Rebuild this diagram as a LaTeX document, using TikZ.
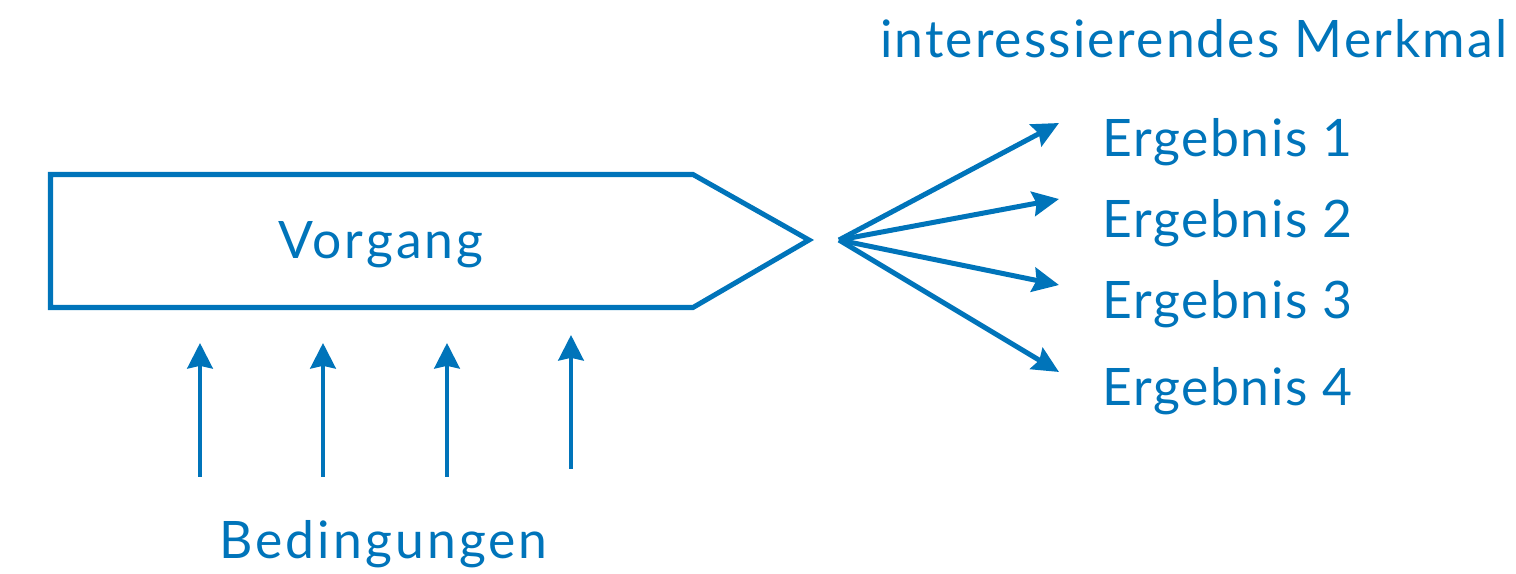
\documentclass[tikz,border=0pt]{standalone}
\usepackage{fontspec}
\setmainfont{Lato}
\usetikzlibrary{arrows.meta}
\definecolor{blu}{RGB}{0,116,186}
\begin{document}
\begin{tikzpicture}[x=0.02cm,y=-0.02cm,
  lbl/.style={text=blu, inner sep=0pt, anchor=base west, font=\fontsize{29.4}{30}\selectfont},
  ls/.style={font=\fontsize{29.4}{30}\selectfont\addfontfeatures{LetterSpace=#1}},
  arr/.style={draw=blu, line width=2.85pt, -{Stealth[length=15pt,width=14pt,inset=2pt]}},
  varr/.style={draw=blu, line width=2.3pt, -{Stealth[length=14.5pt,width=14.5pt,inset=1.5pt]}},
  boxline/.style={draw=blu, line width=2.85pt, line join=miter}
]
\useasboundingbox (0,0) rectangle (1516,574);
% process shape
\draw[boxline] (50.5,174.5) -- (693,174.5) -- (809,240) -- (693,307.5) -- (50.5,307.5) -- cycle;
\node[lbl, ls=6] (vorgang) at (278,259) {Vorgang};
% labels
\node[lbl, ls=4] (merkmal) at (880,58) {interessierendes Merkmal};
\node[lbl, ls=3.3] (e1) at (1102,157) {Ergebnis 1};
\node[lbl, ls=3.3] (e2) at (1102,238) {Ergebnis 2};
\node[lbl, ls=3.3] (e3) at (1102,319) {Ergebnis 3};
\node[lbl, ls=3.3] (e4) at (1102,406) {Ergebnis 4};
\node[lbl, ls=6] (bed) at (219,559) {Bedingungen};
% hub and arrow ends
\coordinate (hub) at (839,240);
\coordinate (t1) at (1059,123);
\coordinate (t2) at (1059,199);
\coordinate (t3) at (1059,285);
\coordinate (t4) at (1059,372);
\draw[arr] (hub) -- (t1);
\draw[arr] (hub) -- (t2);
\draw[arr] (hub) -- (t3);
\draw[arr] (hub) -- (t4);
% condition arrows
\coordinate (b1) at (200,477); \coordinate (u1) at (200,343);
\coordinate (b2) at (323,477); \coordinate (u2) at (323,343);
\coordinate (b3) at (447,477); \coordinate (u3) at (447,343);
\coordinate (b4) at (571,469); \coordinate (u4) at (571,335);
\draw[varr] (b1) -- (u1);
\draw[varr] (b2) -- (u2);
\draw[varr] (b3) -- (u3);
\draw[varr] (b4) -- (u4);
\end{tikzpicture}
\end{document}
